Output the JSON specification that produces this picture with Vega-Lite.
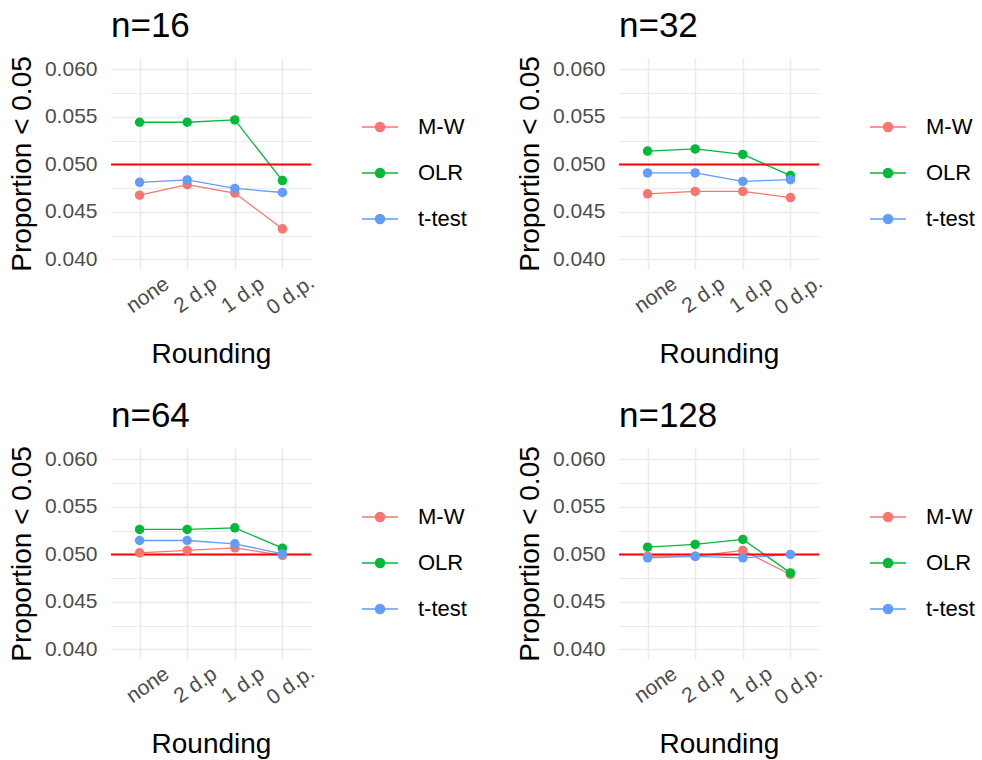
{
  "$schema": "https://vega.github.io/schema/vega-lite/v6.json",
  "background": "white",
  "padding": {"left": 8, "top": 8, "right": 5, "bottom": 0},
  "datasets": {
    "sim": [
      {"n": 16, "method": "M-W", "rounding": "none", "prop": 0.04677},
      {"n": 16, "method": "M-W", "rounding": "2 d.p", "prop": 0.04787},
      {"n": 16, "method": "M-W", "rounding": "1 d.p", "prop": 0.04699},
      {"n": 16, "method": "M-W", "rounding": "0 d.p.", "prop": 0.04323},
      {"n": 16, "method": "OLR", "rounding": "none", "prop": 0.05444},
      {"n": 16, "method": "OLR", "rounding": "2 d.p", "prop": 0.05444},
      {"n": 16, "method": "OLR", "rounding": "1 d.p", "prop": 0.05468},
      {"n": 16, "method": "OLR", "rounding": "0 d.p.", "prop": 0.0483},
      {"n": 16, "method": "t-test", "rounding": "none", "prop": 0.04812},
      {"n": 16, "method": "t-test", "rounding": "2 d.p", "prop": 0.04837},
      {"n": 16, "method": "t-test", "rounding": "1 d.p", "prop": 0.04748},
      {"n": 16, "method": "t-test", "rounding": "0 d.p.", "prop": 0.04705},
      {"n": 32, "method": "M-W", "rounding": "none", "prop": 0.04691},
      {"n": 32, "method": "M-W", "rounding": "2 d.p", "prop": 0.04716},
      {"n": 32, "method": "M-W", "rounding": "1 d.p", "prop": 0.04716},
      {"n": 32, "method": "M-W", "rounding": "0 d.p.", "prop": 0.04652},
      {"n": 32, "method": "OLR", "rounding": "none", "prop": 0.05141},
      {"n": 32, "method": "OLR", "rounding": "2 d.p", "prop": 0.05163},
      {"n": 32, "method": "OLR", "rounding": "1 d.p", "prop": 0.05106},
      {"n": 32, "method": "OLR", "rounding": "0 d.p.", "prop": 0.04883},
      {"n": 32, "method": "t-test", "rounding": "none", "prop": 0.04911},
      {"n": 32, "method": "t-test", "rounding": "2 d.p", "prop": 0.04911},
      {"n": 32, "method": "t-test", "rounding": "1 d.p", "prop": 0.04822},
      {"n": 32, "method": "t-test", "rounding": "0 d.p.", "prop": 0.0484},
      {"n": 64, "method": "M-W", "rounding": "none", "prop": 0.05017},
      {"n": 64, "method": "M-W", "rounding": "2 d.p", "prop": 0.05042},
      {"n": 64, "method": "M-W", "rounding": "1 d.p", "prop": 0.0507},
      {"n": 64, "method": "M-W", "rounding": "0 d.p.", "prop": 0.0499},
      {"n": 64, "method": "OLR", "rounding": "none", "prop": 0.05263},
      {"n": 64, "method": "OLR", "rounding": "2 d.p", "prop": 0.05263},
      {"n": 64, "method": "OLR", "rounding": "1 d.p", "prop": 0.0528},
      {"n": 64, "method": "OLR", "rounding": "0 d.p.", "prop": 0.05066},
      {"n": 64, "method": "t-test", "rounding": "none", "prop": 0.05147},
      {"n": 64, "method": "t-test", "rounding": "2 d.p", "prop": 0.05147},
      {"n": 64, "method": "t-test", "rounding": "1 d.p", "prop": 0.05112},
      {"n": 64, "method": "t-test", "rounding": "0 d.p.", "prop": 0.05006},
      {"n": 128, "method": "M-W", "rounding": "none", "prop": 0.04982},
      {"n": 128, "method": "M-W", "rounding": "2 d.p", "prop": 0.04982},
      {"n": 128, "method": "M-W", "rounding": "1 d.p", "prop": 0.05042},
      {"n": 128, "method": "M-W", "rounding": "0 d.p.", "prop": 0.04789},
      {"n": 128, "method": "OLR", "rounding": "none", "prop": 0.05077},
      {"n": 128, "method": "OLR", "rounding": "2 d.p", "prop": 0.05105},
      {"n": 128, "method": "OLR", "rounding": "1 d.p", "prop": 0.05158},
      {"n": 128, "method": "OLR", "rounding": "0 d.p.", "prop": 0.04806},
      {"n": 128, "method": "t-test", "rounding": "none", "prop": 0.04964},
      {"n": 128, "method": "t-test", "rounding": "2 d.p", "prop": 0.04979},
      {"n": 128, "method": "t-test", "rounding": "1 d.p", "prop": 0.04964},
      {"n": 128, "method": "t-test", "rounding": "0 d.p.", "prop": 0.05}
    ],
    "ref": [{"level": 0.05}]
  },
  "columns": 2,
  "spacing": {"row": 29, "column": 49},
  "resolve": {"scale": {"color": "shared"}, "legend": {"color": "independent"}},
  "concat": [
    {
      "title": "n=16", "width": 200, "height": 211,
      "encoding": {
        "x": {"field": "rounding", "type": "ordinal", "sort": ["none", "2 d.p", "1 d.p", "0 d.p."], "scale": {"type": "point", "padding": 0.6}, "axis": {"title": "Rounding", "grid": true}},
        "y": {"field": "prop", "type": "quantitative", "scale": {"domain": [0.039, 0.0612], "nice": false, "zero": false}, "axis": {"title": "Proportion < 0.05", "values": [0.04, 0.0425, 0.045, 0.0475, 0.05, 0.0525, 0.055, 0.0575, 0.06], "labelExpr": "round(datum.value*2000) % 10 === 0 ? format(datum.value, '.3f') : ''", "gridWidth": {"condition": {"test": "round(datum.value*2000) % 10 === 0", "value": 1.6}, "value": 1.1}}},
        "color": {"field": "method", "type": "nominal", "scale": {"domain": ["M-W", "OLR", "t-test"], "range": ["#F8766D", "#00BA38", "#619CFF"]}, "legend": {"title": null, "orient": "none", "legendX": 250, "legendY": 50}}
      },
      "layer": [
        {"data": {"name": "sim"}, "transform": [{"filter": "datum.n === 16"}], "mark": {"type": "line", "strokeWidth": 1.3}},
        {"data": {"name": "ref"}, "mark": {"type": "rule", "color": "#FF0000", "strokeWidth": 2}, "encoding": {"x": null, "color": null, "y": {"field": "level", "type": "quantitative"}}},
        {"data": {"name": "sim"}, "transform": [{"filter": "datum.n === 16"}], "mark": {"type": "point", "filled": true, "size": 90, "opacity": 1}}
      ]
    },
    {
      "title": "n=32", "width": 200, "height": 211,
      "encoding": {
        "x": {"field": "rounding", "type": "ordinal", "sort": ["none", "2 d.p", "1 d.p", "0 d.p."], "scale": {"type": "point", "padding": 0.6}, "axis": {"title": "Rounding", "grid": true}},
        "y": {"field": "prop", "type": "quantitative", "scale": {"domain": [0.039, 0.0612], "nice": false, "zero": false}, "axis": {"title": "Proportion < 0.05", "values": [0.04, 0.0425, 0.045, 0.0475, 0.05, 0.0525, 0.055, 0.0575, 0.06], "labelExpr": "round(datum.value*2000) % 10 === 0 ? format(datum.value, '.3f') : ''", "gridWidth": {"condition": {"test": "round(datum.value*2000) % 10 === 0", "value": 1.6}, "value": 1.1}}},
        "color": {"field": "method", "type": "nominal", "scale": {"domain": ["M-W", "OLR", "t-test"], "range": ["#F8766D", "#00BA38", "#619CFF"]}, "legend": {"title": null, "orient": "none", "legendX": 250, "legendY": 50}}
      },
      "layer": [
        {"data": {"name": "sim"}, "transform": [{"filter": "datum.n === 32"}], "mark": {"type": "line", "strokeWidth": 1.3}},
        {"data": {"name": "ref"}, "mark": {"type": "rule", "color": "#FF0000", "strokeWidth": 2}, "encoding": {"x": null, "color": null, "y": {"field": "level", "type": "quantitative"}}},
        {"data": {"name": "sim"}, "transform": [{"filter": "datum.n === 32"}], "mark": {"type": "point", "filled": true, "size": 90, "opacity": 1}}
      ]
    },
    {
      "title": "n=64", "width": 200, "height": 211,
      "encoding": {
        "x": {"field": "rounding", "type": "ordinal", "sort": ["none", "2 d.p", "1 d.p", "0 d.p."], "scale": {"type": "point", "padding": 0.6}, "axis": {"title": "Rounding", "grid": true}},
        "y": {"field": "prop", "type": "quantitative", "scale": {"domain": [0.039, 0.0612], "nice": false, "zero": false}, "axis": {"title": "Proportion < 0.05", "values": [0.04, 0.0425, 0.045, 0.0475, 0.05, 0.0525, 0.055, 0.0575, 0.06], "labelExpr": "round(datum.value*2000) % 10 === 0 ? format(datum.value, '.3f') : ''", "gridWidth": {"condition": {"test": "round(datum.value*2000) % 10 === 0", "value": 1.6}, "value": 1.1}}},
        "color": {"field": "method", "type": "nominal", "scale": {"domain": ["M-W", "OLR", "t-test"], "range": ["#F8766D", "#00BA38", "#619CFF"]}, "legend": {"title": null, "orient": "none", "legendX": 250, "legendY": 50}}
      },
      "layer": [
        {"data": {"name": "sim"}, "transform": [{"filter": "datum.n === 64"}], "mark": {"type": "line", "strokeWidth": 1.3}},
        {"data": {"name": "ref"}, "mark": {"type": "rule", "color": "#FF0000", "strokeWidth": 2}, "encoding": {"x": null, "color": null, "y": {"field": "level", "type": "quantitative"}}},
        {"data": {"name": "sim"}, "transform": [{"filter": "datum.n === 64"}], "mark": {"type": "point", "filled": true, "size": 90, "opacity": 1}}
      ]
    },
    {
      "title": "n=128", "width": 200, "height": 211,
      "encoding": {
        "x": {"field": "rounding", "type": "ordinal", "sort": ["none", "2 d.p", "1 d.p", "0 d.p."], "scale": {"type": "point", "padding": 0.6}, "axis": {"title": "Rounding", "grid": true}},
        "y": {"field": "prop", "type": "quantitative", "scale": {"domain": [0.039, 0.0612], "nice": false, "zero": false}, "axis": {"title": "Proportion < 0.05", "values": [0.04, 0.0425, 0.045, 0.0475, 0.05, 0.0525, 0.055, 0.0575, 0.06], "labelExpr": "round(datum.value*2000) % 10 === 0 ? format(datum.value, '.3f') : ''", "gridWidth": {"condition": {"test": "round(datum.value*2000) % 10 === 0", "value": 1.6}, "value": 1.1}}},
        "color": {"field": "method", "type": "nominal", "scale": {"domain": ["M-W", "OLR", "t-test"], "range": ["#F8766D", "#00BA38", "#619CFF"]}, "legend": {"title": null, "orient": "none", "legendX": 250, "legendY": 50}}
      },
      "layer": [
        {"data": {"name": "sim"}, "transform": [{"filter": "datum.n === 128"}], "mark": {"type": "line", "strokeWidth": 1.3}},
        {"data": {"name": "ref"}, "mark": {"type": "rule", "color": "#FF0000", "strokeWidth": 2}, "encoding": {"x": null, "color": null, "y": {"field": "level", "type": "quantitative"}}},
        {"data": {"name": "sim"}, "transform": [{"filter": "datum.n === 128"}], "mark": {"type": "point", "filled": true, "size": 90, "opacity": 1}}
      ]
    }
  ],
  "config": {
    "font": "Liberation Sans",
    "view": {"stroke": null},
    "title": {"fontSize": 35, "fontWeight": "normal", "color": "black", "anchor": "start", "frame": "group", "offset": 12},
    "axis": {"domain": false, "ticks": false, "tickSize": 0, "gridColor": "#EBEBEB", "gridWidth": 1.6, "labelColor": "#4D4D4D", "labelFontSize": 21, "titleFontSize": 28, "titleFontWeight": "normal", "titleColor": "black", "labelFont": "Liberation Sans", "titleFont": "Liberation Sans"},
    "axisX": {"labelAngle": -35, "labelAlign": "center", "labelBaseline": "middle", "labelPadding": 26, "labelOffset": 8, "titlePadding": 22},
    "axisY": {"labelPadding": 14, "titlePadding": 8},
    "legend": {"padding": 0, "symbolType": "M-1,0L1,0M0.25,0A0.25,0.25,0,1,1,-0.25,0A0.25,0.25,0,1,1,0.25,0Z", "symbolSize": 1296, "symbolStrokeWidth": 1.5, "labelFontSize": 22, "labelColor": "black", "labelOffset": 19, "rowPadding": 16, "labelFont": "Liberation Sans"}
  }
}
